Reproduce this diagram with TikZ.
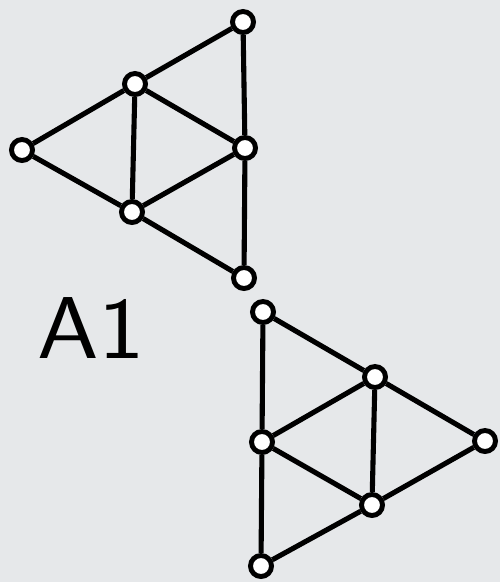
\documentclass[tikz,border=0pt]{standalone}
\definecolor{bggray}{RGB}{230,232,234}
\tikzset{
  vert/.style={circle,draw=black,fill=white,line width=2.8pt,minimum size=0.42cm,inner sep=0pt},
  edge/.style={line width=2.9pt}
}
\begin{document}
\begin{tikzpicture}[x=0.02cm,y=-0.02cm]
\fill[bggray] (0,0) rectangle (500,582);
\useasboundingbox (0,0) rectangle (500,582);

% upper triangle
\node[vert] (t1) at (243,22) {};
\node[vert] (t2) at (135,84) {};
\node[vert] (t3) at (22,150) {};
\node[vert] (t4) at (245,148) {};
\node[vert] (t5) at (132,212) {};
\node[vert] (t6) at (244,278) {};
\draw[edge] (t1) -- (t2) -- (t3) -- (t5) -- (t6) -- (t4) -- (t1);
\draw[edge] (t2) -- (t4) -- (t5) -- (t2);

% lower triangle
\node[vert] (b1) at (263,312) {};
\node[vert] (b2) at (375,377) {};
\node[vert] (b3) at (485,441) {};
\node[vert] (b4) at (262,442) {};
\node[vert] (b5) at (372,505) {};
\node[vert] (b6) at (261,566) {};
\draw[edge] (b1) -- (b2) -- (b3) -- (b5) -- (b6) -- (b4) -- (b1);
\draw[edge] (b2) -- (b4) -- (b5) -- (b2);

\node[xscale=1.12] (lbl) at (91,328) {\sffamily\fontsize{50}{50}\selectfont A1};
\end{tikzpicture}
\end{document}
